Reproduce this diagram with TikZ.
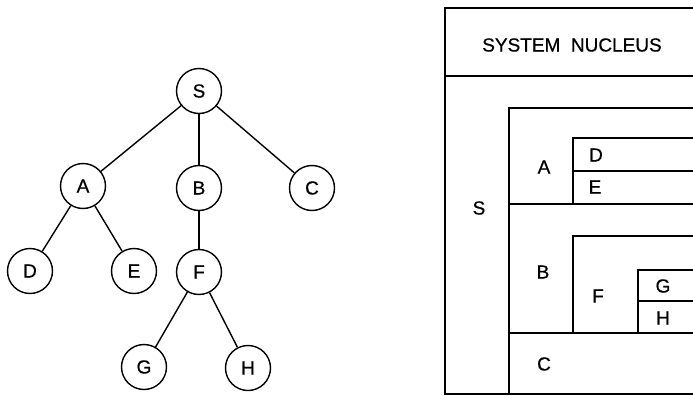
\documentclass[tikz,border=0pt]{standalone}
\usepackage{fontspec}
\setmainfont{Liberation Sans}[FakeBold=0.6]
\begin{document}
\begin{tikzpicture}[x=1pt,y=-1pt,
  every node/.style={font=\fontsize{19}{22}\selectfont},
  vertex/.style={circle,draw,line width=1.4pt,minimum size=45pt,inner sep=0pt},
  edge/.style={line width=1.4pt},
  rule/.style={line width=1.4pt},
  lbl/.style={inner sep=0pt,anchor=center}]
\useasboundingbox (0,0) rectangle (693,396);

% tree of modules
\node[vertex] (S) at (199,91) {S};
\node[vertex] (A) at (83,186) {A};
\node[vertex] (B) at (199,188) {B};
\node[vertex] (C) at (312,188) {C};
\node[vertex] (D) at (30,271) {D};
\node[vertex] (E) at (134,271) {E};
\node[vertex] (F) at (199,272) {F};
\node[vertex] (G) at (144,367) {G};
\node[vertex] (H) at (248,368) {H};
\draw[edge] (S) -- (A);
\draw[edge] (S) -- (B);
\draw[edge] (S) -- (C);
\draw[edge] (A) -- (D);
\draw[edge] (A) -- (E);
\draw[edge] (B) -- (F);
\draw[edge] (F) -- (G);
\draw[edge] (F) -- (H);

% nested layer chart
\draw[rule] (693,8) -- (445,8) -- (445,394) -- (693,394);
\draw[rule] (445,76) -- (693,76);
\draw[rule] (693,108) -- (509,108) -- (509,394);
\draw[rule] (693,138) -- (573,138) -- (573,204);
\draw[rule] (573,171) -- (693,171);
\draw[rule] (509,204) -- (693,204);
\draw[rule] (693,236) -- (573,236) -- (573,333);
\draw[rule] (693,270) -- (638,270) -- (638,333);
\draw[rule] (638,301) -- (693,301);
\draw[rule] (509,333) -- (693,333);

\node[lbl] (nucleus) at (572,45) {SYSTEM\ \ NUCLEUS};
\node[lbl] (ls) at (479,208) {S};
\node[lbl] (la) at (544,167) {A};
\node[lbl] (ld) at (596,155) {D};
\node[lbl] (le) at (595,187) {E};
\node[lbl] (lb) at (543,272) {B};
\node[lbl] (lf) at (598,296) {F};
\node[lbl] (lg) at (663,286) {G};
\node[lbl] (lh) at (663,318) {H};
\node[lbl] (lc) at (544,364) {C};
\end{tikzpicture}
\end{document}
